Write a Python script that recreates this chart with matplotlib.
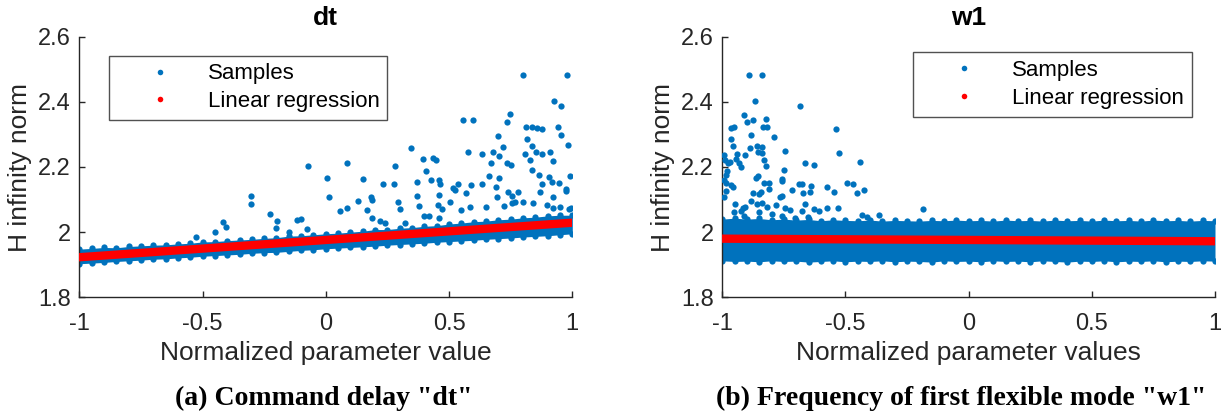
import matplotlib
matplotlib.use("Agg")
import matplotlib.pyplot as plt
from matplotlib.lines import Line2D

plt.rcParams['font.family'] = ['Liberation Sans', 'DejaVu Sans']

# ---------------- data ----------------
panel_titles = ["dt", "w1"]
x_labels = ["Normalized parameter value", "Normalized parameter values"]
y_label = "H infinity norm"
captions = ['(a) Command delay "dt"', '(b) Frequency of first flexible mode "w1"']
x_ticks = [-1, -0.5, 0, 0.5, 1]
x_tick_labels = ["-1", "-0.5", "0", "0.5", "1"]
y_ticks = [1.8, 2.0, 2.2, 2.4, 2.6]
y_tick_labels = ["1.8", "2", "2.2", "2.4", "2.6"]
legend_labels = ["Samples", "Linear regression"]

# dense sample band: lower / upper envelope read at these parameter values
band_x = [-1.00, -0.95, -0.90, -0.85, -0.80, -0.75, -0.70, -0.65, -0.60, -0.55,
          -0.50, -0.45, -0.40, -0.35, -0.30, -0.25, -0.20, -0.15, -0.10, -0.05,
          0.00, 0.05, 0.10, 0.15, 0.20, 0.25, 0.30, 0.35, 0.40, 0.45,
          0.50, 0.55, 0.60, 0.65, 0.70, 0.75, 0.80, 0.85, 0.90, 0.95, 1.00]

dt_upper = [1.948, 1.950, 1.953, 1.952, 1.956, 1.958, 1.960, 1.961, 1.964, 1.966,
            1.970, 1.971, 1.974, 1.976, 1.978, 1.981, 1.983, 1.988, 1.989, 1.992,
            1.995, 1.997, 2.000, 2.003, 2.008, 2.008, 2.012, 2.014, 2.018, 2.020,
            2.025, 2.028, 2.032, 2.034, 2.038, 2.040, 2.044, 2.046, 2.050, 2.052, 2.052]
dt_lower = [1.903, 1.905, 1.907, 1.910, 1.912, 1.914, 1.917, 1.918, 1.921, 1.923,
            1.926, 1.928, 1.930, 1.932, 1.935, 1.937, 1.938, 1.941, 1.944, 1.946,
            1.949, 1.951, 1.953, 1.955, 1.957, 1.960, 1.962, 1.964, 1.966, 1.969,
            1.971, 1.973, 1.975, 1.978, 1.980, 1.982, 1.985, 1.987, 1.989, 1.992, 1.995]

w1_upper = [2.040, 2.043, 2.040, 2.042, 2.038, 2.040, 2.037, 2.039, 2.035, 2.038,
            2.036, 2.035, 2.037, 2.034, 2.036, 2.035, 2.034, 2.036, 2.035, 2.037,
            2.035, 2.036, 2.034, 2.037, 2.035, 2.036, 2.034, 2.037, 2.035, 2.036,
            2.034, 2.037, 2.035, 2.036, 2.034, 2.037, 2.035, 2.036, 2.034, 2.036, 2.035]
w1_lower = [1.912, 1.910, 1.911, 1.909, 1.912, 1.910, 1.911, 1.908, 1.910, 1.912,
            1.909, 1.911, 1.910, 1.912, 1.909, 1.911, 1.910, 1.908, 1.912, 1.910,
            1.911, 1.909, 1.912, 1.910, 1.911, 1.909, 1.912, 1.910, 1.908, 1.911,
            1.910, 1.912, 1.909, 1.911, 1.910, 1.912, 1.909, 1.911, 1.910, 1.912, 1.911]

# isolated samples outside the dense band
dt_out_x = [0.980, 0.802, 0.925, 0.956, 0.749, 0.555, 0.597, 0.735, 0.813, 0.836,
            0.855, 0.877, 0.941, 0.816, 0.697, 0.953, 0.984, 0.720, 0.837, 0.346,
            0.852, 0.877, 0.679, 0.577, 0.633, 0.908, 0.807, 0.701, 0.435, 0.446,
            0.395, 0.829, 0.922, 0.086, 0.669, 0.737, 0.751, 0.279, -0.074, 0.837,
            0.407, 0.863, 0.989, 0.661, 0.907, 0.703, 0.004, 0.152, 0.426, 0.460,
            0.370, 0.918, 0.945, 0.463, 0.537, 0.278, 0.633, 0.876, 0.234, 0.516,
            0.692, 0.570, 0.524, 0.739, 0.781, 0.975, 0.870, 0.591, -0.304, -0.305,
            0.012, 0.183, 0.458, 0.371, 0.757, 0.923, 0.973, 0.129, 0.188, 0.291,
            0.503, 0.694, 0.802, 0.841, 0.767, 0.896, 0.378, 0.457, 0.550, 0.302,
            0.058, 0.085, 0.166, 0.721, 0.757, 0.583, 0.650, 0.923, 0.995, 0.472,
            0.398, 0.417, 0.460, 0.186, 0.219, 0.239, 0.323, -0.228, -0.197, -0.203,
            -0.118, -0.102, -0.077, -0.416, -0.404, -0.449, -0.525, -0.149, 0.949, 0.988]
dt_out_y = [2.482, 2.481, 2.403, 2.388, 2.364, 2.344, 2.345, 2.337, 2.322, 2.322,
            2.321, 2.316, 2.322, 2.287, 2.294, 2.297, 2.267, 2.262, 2.264, 2.259,
            2.245, 2.240, 2.245, 2.245, 2.241, 2.245, 2.241, 2.234, 2.229, 2.223,
            2.224, 2.220, 2.217, 2.213, 2.213, 2.212, 2.205, 2.203, 2.203, 2.192,
            2.187, 2.174, 2.172, 2.172, 2.169, 2.166, 2.165, 2.164, 2.159, 2.159,
            2.153, 2.153, 2.150, 2.148, 2.148, 2.148, 2.148, 2.148, 2.147, 2.135,
            2.138, 2.119, 2.129, 2.123, 2.122, 2.132, 2.122, 2.144, 2.112, 2.087,
            2.109, 2.108, 2.115, 2.111, 2.110, 2.108, 2.126, 2.096, 2.100, 2.092,
            2.093, 2.109, 2.092, 2.091, 2.094, 2.082, 2.081, 2.083, 2.067, 2.070,
            2.066, 2.075, 2.069, 2.079, 2.090, 2.077, 2.077, 2.075, 2.074, 2.070,
            2.051, 2.051, 2.044, 2.044, 2.033, 2.027, 2.028, 2.056, 2.033, 2.012,
            2.037, 2.040, 2.009, 2.031, 2.015, 2.000, 1.985, 2.000, 2.077, 2.070]

w1_out_x = [-0.892, -0.840, -0.868, -0.685, -0.911, -0.898, -0.874, -0.822, -0.964, -0.952,
            -0.835, -0.817, -0.538, -0.885, -0.792, -0.964, -0.958, -0.860, -0.889, -0.837,
            -0.747, -0.525, -0.992, -0.940, -0.855, -0.837, -0.908, -0.945, -0.990, -0.977,
            -0.934, -0.968, -0.832, -0.663, -0.627, -0.441, -0.822, -0.923, -0.751, -0.982,
            -0.757, -0.987, -0.992, -0.856, -0.863, -0.812, -0.832, -0.688, -0.677, -0.493,
            -0.471, -0.963, -0.987, -0.958, -0.756, -0.641, -0.577, -0.425, -0.987, -0.548,
            -0.454, -0.876, -0.842, -0.718, -0.812, -0.995, -0.850, -0.767, -0.758, -0.672,
            -0.645, -0.882, -0.858, -0.840, -0.948, -0.906, -0.819, -0.782, -0.726, -0.744,
            -0.677, -0.666, -0.626, -0.576, -0.532, -0.606, -0.433, -0.411, -0.364, -0.185,
            -0.953, -0.926, -0.914, -0.800, -0.853, -0.759, -0.910, -0.703, -0.653]
w1_out_y = [2.481, 2.482, 2.403, 2.388, 2.359, 2.337, 2.345, 2.346, 2.321, 2.322,
            2.322, 2.322, 2.316, 2.297, 2.293, 2.287, 2.266, 2.264, 2.259, 2.260,
            2.250, 2.244, 2.238, 2.240, 2.245, 2.244, 2.237, 2.226, 2.223, 2.212,
            2.213, 2.216, 2.223, 2.212, 2.207, 2.216, 2.203, 2.200, 2.192, 2.188,
            2.163, 2.174, 2.159, 2.172, 2.166, 2.152, 2.152, 2.148, 2.147, 2.150,
            2.149, 2.146, 2.151, 2.138, 2.158, 2.142, 2.138, 2.130, 2.126, 2.123,
            2.121, 2.120, 2.122, 2.130, 2.132, 2.108, 2.116, 2.109, 2.112, 2.120,
            2.123, 2.097, 2.087, 2.091, 2.087, 2.076, 2.077, 2.084, 2.069, 2.073,
            2.065, 2.087, 2.072, 2.075, 2.073, 2.065, 2.053, 2.047, 2.054, 2.070,
            2.061, 2.065, 2.073, 2.056, 2.061, 2.051, 2.051, 2.043, 2.046]

# linear regression end points
reg_x = [-1.0, 1.0]
dt_reg_y = [1.923, 2.029]
w1_reg_y = [1.980, 1.972]

# ---------------- style ----------------
BLUE = "#0072BD"
RED = "#FF0000"
AX = "#262626"
FS_TICK = 17
FS_LABEL = 19
FS_LEG = 16

fig = plt.figure(figsize=(12.24, 4.19), dpi=100)
W, H = 1224.0, 419.0
axes = [fig.add_axes([79.3 / W, 121.7 / H, 493 / W, 260.6 / H]),
        fig.add_axes([722.3 / W, 121.7 / H, 492.7 / W, 260.6 / H])]

panels = [
    (dt_upper, dt_lower, dt_out_x, dt_out_y, dt_reg_y),
    (w1_upper, w1_lower, w1_out_x, w1_out_y, w1_reg_y),
]
legend_anchor = [(108.5 / W, 1 - 55.7 / H), (912.8 / W, 1 - 52.3 / H)]
caption_x = [323.5, 961.0]

for i, ax in enumerate(axes):
    up, lo, ox, oy, ry = panels[i]
    ax.fill_between(band_x, lo, up, color=BLUE, lw=0, zorder=2)
    ax.plot(band_x, up, ls="none", marker="o", ms=4.5, color=BLUE, mew=0, zorder=2)
    ax.plot(band_x, lo, ls="none", marker="o", ms=4.5, color=BLUE, mew=0, zorder=2)
    ax.plot(ox, oy, ls="none", marker="o", ms=4.5, color=BLUE, mew=0, zorder=3)
    ax.plot(reg_x, ry, color=RED, lw=6, solid_capstyle="round", zorder=4)

    ax.set_xlim(-1, 1)
    ax.set_ylim(1.8, 2.6)
    ax.set_xticks(x_ticks)
    ax.set_xticklabels(x_tick_labels)
    ax.set_yticks(y_ticks)
    ax.set_yticklabels(y_tick_labels)
    for s in ["top", "right"]:
        ax.spines[s].set_visible(False)
    for s in ["left", "bottom"]:
        ax.spines[s].set_color(AX)
        ax.spines[s].set_linewidth(1.0)
    ax.tick_params(direction="in", length=4, width=1.0, colors=AX,
                   labelsize=FS_TICK, pad=6)
    ax.tick_params(axis="x", pad=11)

    ax.set_xlabel(x_labels[i], fontsize=FS_LABEL, color=AX, va="center")
    ax.xaxis.set_label_coords(0.5, -0.212)
    ax.set_ylabel(y_label, fontsize=FS_LABEL, color=AX, va="center", ha="center")
    ax.yaxis.set_label_coords(-0.121, 0.5)
    ax.set_title(panel_titles[i], fontsize=FS_LABEL, fontweight="bold",
                 y=1.07, va="center", pad=0)

    handles = [Line2D([], [], ls="none", marker="o", ms=4, color=BLUE, mew=0),
               Line2D([], [], ls="none", marker="o", ms=4, color=RED, mew=0)]
    leg = ax.legend(handles, legend_labels, loc="upper left",
                    bbox_to_anchor=legend_anchor[i], bbox_transform=fig.transFigure,
                    fontsize=FS_LEG, frameon=True, fancybox=False, borderpad=0.35,
                    handlelength=3.9, handletextpad=0.22, labelspacing=0.3,
                    borderaxespad=0)
    leg.get_frame().set_edgecolor(AX)
    leg.get_frame().set_linewidth(1.0)
    for t in leg.get_texts():
        t.set_color("black")

    fig.text(caption_x[i] / W, 1 - 398 / H, captions[i], ha="center", va="center",
             family=["Liberation Serif", "DejaVu Serif"], fontweight="bold", fontsize=20)

fig.savefig("out.png", dpi=100)
